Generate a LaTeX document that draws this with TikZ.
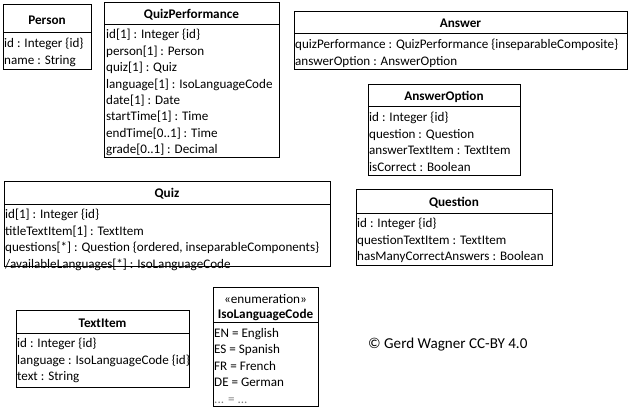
\documentclass[tikz,border=0pt]{standalone}
\usepackage{fontspec}
\setmainfont{Carlito}
\tikzset{
  classbox/.style={draw, line width=0.8pt, anchor=north west, inner sep=0pt, outer sep=0pt},
  ctitle/.style={font=\fontsize{13.2}{16}\selectfont\bfseries, inner sep=0pt, yshift=-1.5pt},
  stereo/.style={font=\fontsize{13.2}{16}\selectfont, inner sep=0pt, yshift=-1pt},
  attrs/.style={font=\fontsize{13.1}{16.4}\selectfont, align=left, anchor=north west, inner sep=0pt, yshift=-1.7pt},
  sepline/.style={line width=0.8pt},
}
\newcommand\umlbox[6]{%
  \node[classbox, minimum width={(#4-#2)*1pt}, minimum height={(#5-#3)*1pt}] (#1) at (#2,#3) {};
  \draw[sepline] (#1.west |- 0,#6) -- (#1.east |- 0,#6);}
\begin{document}
\begin{tikzpicture}[x=1pt,y=-1pt]
\useasboundingbox (0,0) rectangle (630,408);
% Person
\umlbox{person}{3}{4}{91}{69}{32}
\node[ctitle] (person-t) at (47,19) {Person};
\node[attrs] (person-a) at (4,36.5) {id : Integer \{id\}\\name : String};
% QuizPerformance
\umlbox{qp}{104}{2}{279}{157}{24}
\node[ctitle] (qp-t) at (191.5,13) {QuizPerformance};
\node[attrs] (qp-a) at (106,27.5) {id[1] : Integer \{id\}\\person[1] : Person\\quiz[1] : Quiz\\language[1] : IsoLanguageCode\\date[1] : Date\\startTime[1] : Time\\endTime[0..1] : Time\\grade[0..1] : Decimal};
% Answer
\umlbox{ans}{294}{11}{627}{69}{33}
\node[ctitle] (ans-t) at (460.5,22) {Answer};
\node[attrs] (ans-a) at (295,37.5) {quizPerformance : QuizPerformance \{inseparableComposite\}\\answerOption : AnswerOption};
% AnswerOption
\umlbox{ao}{368}{84}{520}{175}{106}
\node[ctitle] (ao-t) at (444,95.5) {AnswerOption};
\node[attrs] (ao-a) at (369,110.5) {id : Integer \{id\}\\question : Question\\answerTextItem : TextItem\\isCorrect : Boolean};
% Quiz
\umlbox{quiz}{4}{181}{330}{266}{204}
\node[ctitle] (quiz-t) at (167,192.5) {Quiz};
\node[attrs] (quiz-a) at (5,207.5) {id[1] : Integer \{id\}\\titleTextItem[1] : TextItem\\questions[*] : Question \{ordered, inseparableComponents\}\\/availableLanguages[*] : IsoLanguageCode};
% Question
\umlbox{qu}{356}{189}{552}{265}{213}
\node[ctitle] (qu-t) at (454,201) {Question};
\node[attrs] (qu-a) at (357,216.5) {id : Integer \{id\}\\questionTextItem : TextItem\\hasManyCorrectAnswers : Boolean};
% TextItem
\umlbox{ti}{16}{310}{189}{387}{333}
\node[ctitle] (ti-t) at (102.5,321.5) {TextItem};
\node[attrs] (ti-a) at (17,336.5) {id : Integer \{id\}\\language : IsoLanguageCode \{id\}\\text : String};
% IsoLanguageCode
\umlbox{iso}{213}{287}{318}{406}{322}
\node[stereo] (iso-s) at (265.5,298) {«enumeration»};
\node[ctitle] (iso-t) at (265.5,313) {IsoLanguageCode};
\node[attrs] (iso-a) at (214,326.5) {EN = English\\ES = Spanish\\FR = French\\DE = German\\{\color{gray}... = ...}};
% copyright
\node[anchor=west, inner sep=0pt, font=\fontsize{15.1}{17}\selectfont] (copy) at (368,344.5) {© Gerd Wagner CC-BY 4.0};
\end{tikzpicture}
\end{document}
